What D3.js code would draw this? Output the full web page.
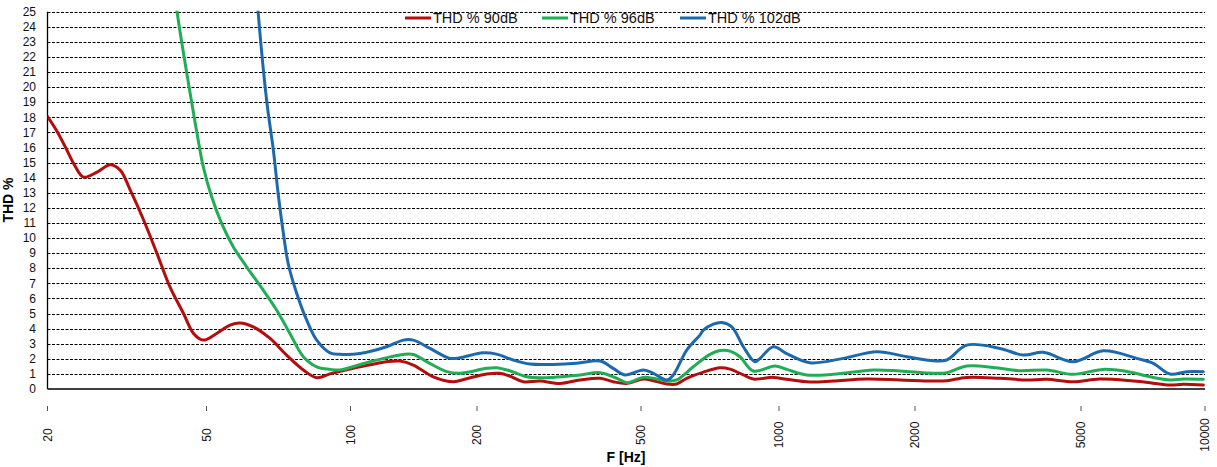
<!DOCTYPE html>
<html>
<head>
<meta charset="utf-8">
<script src="https://cdn.jsdelivr.net/npm/d3@7"></script>
<style>
  html, body { margin: 0; padding: 0; background: #fff; }
  svg { display: block; font-family: "Liberation Sans", Arial, sans-serif; }
</style>
</head>
<body>
<svg id="chart" width="1217" height="467"></svg>
<script>
// ---- Data ----
const xTickValues = [20, 50, 100, 200, 500, 1000, 2000, 5000, 10000];
const yTickValues = d3.range(0, 26);
const seriesNames = ["THD % 90dB", "THD % 96dB", "THD % 102dB"];
const seriesColors = ["#b40d0d", "#1fae55", "#1c6aad"];

const freq90 = [20, 21.1, 22.2, 23.3, 24.6, 26.6, 28.7, 30.4, 32.2, 34.8, 37.6, 40.5, 43.8, 46.4, 49.1, 52.5, 56.0, 58.7, 62.6, 67.9, 73.5, 79.7, 85.0, 90.6, 101.5, 121.9, 131.2, 141.1, 157.4, 175.6, 189, 211, 227, 240, 259, 284, 318, 356, 398, 428, 462, 506, 532, 569, 598, 629, 684, 744, 782, 836, 879, 972, 1040, 1171, 1319, 1564, 1853, 2213, 2383, 2660, 3197, 3705, 4138, 4792, 5560, 6698, 7353, 8223, 8858, 9906];
const thd90 = [18.05, 17.1, 16.0, 14.9, 14.04, 14.37, 14.86, 14.5, 13.2, 11.2, 8.97, 6.76, 5.0, 3.68, 3.24, 3.68, 4.23, 4.38, 4.12, 3.35, 2.25, 1.26, 0.75, 1.0, 1.37, 1.81, 1.85, 1.59, 0.81, 0.48, 0.68, 0.99, 1.04, 0.86, 0.48, 0.53, 0.37, 0.60, 0.71, 0.48, 0.37, 0.66, 0.55, 0.33, 0.33, 0.71, 1.12, 1.41, 1.32, 0.93, 0.66, 0.77, 0.64, 0.46, 0.53, 0.66, 0.60, 0.53, 0.55, 0.77, 0.71, 0.60, 0.64, 0.48, 0.66, 0.53, 0.42, 0.26, 0.31, 0.26];

const freq96 = [40.5, 42.2, 45.5, 47.3, 49.1, 51.3, 53.8, 56.9, 60.7, 65.7, 70.1, 74.7, 79.7, 85.0, 90.6, 95.1, 111.3, 133.5, 141.1, 151.8, 169.4, 182.2, 211, 223, 240, 264, 306, 356, 398, 437, 462, 506, 532, 569, 598, 650, 707, 744, 782, 822, 879, 980, 1040, 1152, 1319, 1617, 1853, 2213, 2383, 2660, 3081, 3570, 4138, 4792, 5664, 6698, 7219, 8223, 8858, 9906];
const thd96 = [29, 25, 19.6, 17.0, 14.7, 12.7, 10.96, 9.41, 8.08, 6.55, 5.22, 3.68, 2.14, 1.47, 1.30, 1.26, 1.81, 2.29, 2.29, 1.81, 1.15, 1.04, 1.37, 1.41, 1.21, 0.81, 0.77, 0.93, 1.08, 0.71, 0.42, 0.77, 0.71, 0.53, 0.60, 1.47, 2.29, 2.55, 2.51, 2.14, 1.19, 1.52, 1.30, 0.93, 0.97, 1.26, 1.19, 1.04, 1.08, 1.52, 1.43, 1.21, 1.26, 0.97, 1.30, 1.08, 0.86, 0.60, 0.66, 0.64];

const freq102 = [62.5, 64.1, 66.8, 69.0, 70.6, 72.4, 74.1, 77.2, 81.0, 85.0, 90.6, 95.1, 105.3, 121.9, 133.5, 141.1, 154.6, 172.5, 182.2, 207, 223, 245, 269, 306, 349, 398, 428, 457, 506, 532, 569, 588, 629, 672, 684, 719, 750, 789, 836, 886, 909, 972, 1040, 1171, 1388, 1645, 1917, 2213, 2383, 2660, 3197, 3636, 4061, 4792, 5664, 6827, 7490, 8223, 9028, 9906];
const thd102 = [30, 25, 19.1, 15.8, 12.94, 10.3, 8.3, 6.33, 4.56, 3.24, 2.40, 2.30, 2.35, 2.80, 3.24, 3.24, 2.69, 2.03, 2.07, 2.40, 2.31, 1.92, 1.65, 1.63, 1.70, 1.85, 1.37, 0.93, 1.26, 1.04, 0.60, 0.93, 2.58, 3.57, 3.90, 4.30, 4.41, 4.12, 2.80, 1.81, 2.03, 2.80, 2.35, 1.74, 2.03, 2.47, 2.14, 1.87, 1.92, 2.91, 2.69, 2.25, 2.43, 1.81, 2.53, 2.03, 1.70, 0.99, 1.15, 1.15];

const series = [
  { name: seriesNames[0], color: seriesColors[0], f: freq90, v: thd90 },
  { name: seriesNames[1], color: seriesColors[1], f: freq96, v: thd96 },
  { name: seriesNames[2], color: seriesColors[2], f: freq102, v: thd102 }
];

// ---- Layout ----
const plotLeft = 47.5, plotRight = 1205, plotTop = 11.7, plotBottom = 389;
const svg = d3.select("#chart");

const x = d3.scaleLog()
  .domain(xTickValues)
  .range([47.5, 206.5, 350.5, 477, 641, 779, 915, 1081, 1205]);
const y = d3.scaleLinear().domain([0, 25]).range([plotBottom, plotTop]);

// gridlines
svg.append("g")
  .selectAll("line")
  .data(yTickValues.filter(d => d > 0))
  .join("line")
  .attr("x1", plotLeft).attr("x2", plotRight)
  .attr("y1", d => Math.round(y(d)) + 0.5).attr("y2", d => Math.round(y(d)) + 0.5)
  .attr("stroke", "#000").attr("stroke-width", 1)
  .attr("stroke-dasharray", "3,1.5");

// axes lines
svg.append("line")
  .attr("x1", plotLeft).attr("x2", plotLeft)
  .attr("y1", plotTop).attr("y2", plotBottom)
  .attr("stroke", "#000").attr("stroke-width", 1.3);
svg.append("line")
  .attr("x1", plotLeft).attr("x2", plotRight)
  .attr("y1", plotBottom).attr("y2", plotBottom)
  .attr("stroke", "#000").attr("stroke-width", 1.3);

// y tick labels
svg.append("g")
  .selectAll("text")
  .data(yTickValues)
  .join("text")
  .attr("x", 36)
  .attr("y", d => y(d))
  .attr("dy", "0.35em")
  .attr("text-anchor", "end")
  .attr("font-size", 12)
  .attr("fill", "#111")
  .text(d => d);

// x ticks + labels
const xt = svg.append("g");
xt.selectAll("line")
  .data(xTickValues)
  .join("line")
  .attr("x1", d => x(d)).attr("x2", d => x(d))
  .attr("y1", 406).attr("y2", 411)
  .attr("stroke", "#555").attr("stroke-width", 1);
xt.selectAll("text")
  .data(xTickValues)
  .join("text")
  .attr("transform", d => `translate(${x(d) + 4},435) rotate(-90)`)
  .attr("text-anchor", "middle")
  .attr("font-size", 12)
  .attr("fill", "#111")
  .text(d => d);

// axis titles
svg.append("text")
  .attr("transform", "translate(13,200) rotate(-90)")
  .attr("text-anchor", "middle")
  .attr("font-size", 14).attr("font-weight", "bold")
  .text("THD %");
svg.append("text")
  .attr("x", 626).attr("y", 462)
  .attr("text-anchor", "middle")
  .attr("font-size", 14).attr("font-weight", "bold")
  .text("F [Hz]");

// clip
svg.append("defs").append("clipPath").attr("id", "plotclip")
  .append("rect")
  .attr("x", plotLeft).attr("y", plotTop - 1)
  .attr("width", plotRight - plotLeft + 2)
  .attr("height", plotBottom - plotTop + 3);

const line = d3.line()
  .x(d => x(d[0]))
  .y(d => y(d[1]))
  .curve(d3.curveCatmullRom.alpha(0.5));

svg.append("g").attr("clip-path", "url(#plotclip)")
  .selectAll("path")
  .data(series)
  .join("path")
  .attr("d", s => line(s.f.map((f, i) => [f, s.v[i]])))
  .attr("fill", "none")
  .attr("stroke", s => s.color)
  .attr("stroke-width", 3)
  .attr("stroke-linejoin", "round")
  .attr("stroke-linecap", "round");

// legend
const legendX = [405, 542, 680];
const lg = svg.append("g");
series.forEach((s, i) => {
  const g = lg.append("g").attr("transform", `translate(${legendX[i]},18)`);
  g.append("line").attr("x1", 0).attr("x2", 26).attr("y1", 0).attr("y2", 0)
    .attr("stroke", s.color).attr("stroke-width", 3);
  g.append("text").attr("x", 28).attr("y", 0).attr("dy", "0.36em")
    .attr("font-size", 14.5).attr("fill", "#111")
    .text(s.name);
});
</script>
</body>
</html>
